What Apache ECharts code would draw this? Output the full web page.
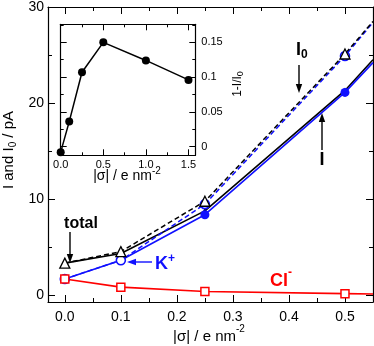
<!DOCTYPE html>
<html>
<head>
<meta charset="utf-8">
<script src="https://cdn.jsdelivr.net/npm/echarts@6/dist/echarts.min.js"></script>
<style>
html, body { margin: 0; padding: 0; background: #fff; }
#chart { width: 374px; height: 346px; }
</style>
</head>
<body>
<div id="chart"></div>
<script>
// |sigma| in e nm^-2; the last entry is only where the curves leave the frame
var sigma = [0, 0.1, 0.25, 0.5, 0.55];
var totalI0 = [3.3, 4.5, 9.75, 25.1, 28.5];
var totalI = [3.3, 4.3, 8.75, 21.3, 24.5];
var kI0 = [1.65, 3.6, 9.45, 24.9, 28.4];
var kI = [1.65, 3.6, 8.35, 21.1, 24.2];
var clI = [1.65, 0.8, 0.35, 0.12, 0.08];
var MARKED = 4; // points with a symbol

// inset: 1 - I/I0
var insetSigma = [0, 0.1, 0.25, 0.5, 1.0, 1.5];
var insetRatio = [-0.008, 0.036, 0.107, 0.150, 0.124, 0.096];

var FONT = 'Liberation Sans';
var BLUE = '#1010ff';
var RED = '#ff0000';

function pts(ys) {
  return sigma.map(function (x, i) {
    return i < MARKED ? [x, ys[i]] : { value: [x, ys[i]], symbol: 'none' };
  });
}

// one side of a frame; minInterval=maxInterval keeps ticks on round values
function side(grid, pos, range, step, tickLen, line, label) {
  return {
    type: 'value', gridIndex: grid, position: pos,
    min: range[0], max: range[1],
    minInterval: step, maxInterval: step,
    axisLine: { show: line, onZero: false, lineStyle: { color: '#000', width: 1.2 } },
    axisTick: { show: true, inside: true, length: tickLen, lineStyle: { color: '#000', width: 1 } },
    axisLabel: label ? Object.assign({ show: true, color: '#000', fontFamily: FONT }, label) : { show: false },
    splitLine: { show: false }
  };
}

var mainX = [-0.03, 0.55], mainY = [-0.75, 30];
var insX = [0, 1.58], insY = [-0.0125, 0.176];

function arrow(x1, y1, x2, y2, color) {
  var dx = x2 - x1, dy = y2 - y1, L = Math.sqrt(dx * dx + dy * dy);
  var ux = dx / L, uy = dy / L, hl = 9, hw = 3.2;
  var bx = x2 - ux * hl, by = y2 - uy * hl;
  return [
    { type: 'line', shape: { x1: x1, y1: y1, x2: bx, y2: by }, style: { stroke: color, lineWidth: 1.4 } },
    { type: 'polygon', shape: { points: [[x2, y2], [bx - uy * hw, by + ux * hw], [bx + uy * hw, by - ux * hw]] }, style: { fill: color } }
  ];
}

function txt(x, y, text, rich, align, rotation) {
  return {
    type: 'text', x: x, y: y, rotation: rotation || 0,
    style: { text: text, rich: rich, align: align || 'center', verticalAlign: 'middle', fontFamily: FONT }
  };
}

var chart = echarts.init(document.getElementById('chart'));
chart.setOption({
  animation: false,
  backgroundColor: '#fff',
  grid: [
    { left: 48, right: 1, top: 7, bottom: 44 },
    { left: 60.7, top: 24.3, width: 134.6, height: 131 }
  ],
  xAxis: [
    side(0, 'bottom', mainX, 0.1, 7, true, { fontSize: 14, margin: 8, showMinLabel: false, showMaxLabel: false, formatter: function (v) { return v.toFixed(1); } }),
    side(0, 'bottom', mainX, 0.05, 4, false),
    side(0, 'top', mainX, 0.1, 7, true),
    side(0, 'top', mainX, 0.05, 4, false),
    side(1, 'bottom', insX, 0.5, 6, true, { fontSize: 11, margin: 4, showMinLabel: true, showMaxLabel: false, formatter: function (v) { return v.toFixed(1); } }),
    side(1, 'bottom', insX, 0.25, 3, false),
    side(1, 'top', insX, 0.5, 6, true),
    side(1, 'top', insX, 0.25, 3, false)
  ],
  yAxis: [
    side(0, 'left', mainY, 10, 7, true, { fontSize: 14, margin: 4, showMinLabel: false, showMaxLabel: true }),
    side(0, 'left', mainY, 5, 4, false),
    side(0, 'right', mainY, 10, 7, true),
    side(0, 'right', mainY, 5, 4, false),
    side(1, 'left', insY, 0.05, 6, true),
    side(1, 'left', insY, 0.025, 3, false),
    side(1, 'right', insY, 0.05, 6, true, { fontSize: 11, margin: 6, showMinLabel: false, showMaxLabel: false }),
    side(1, 'right', insY, 0.025, 3, false)
  ],
  series: [
    { name: 'I total', type: 'line', data: pts(totalI), clip: false,
      lineStyle: { color: '#000', width: 1.6 }, symbol: 'triangle', symbolSize: 6,
      itemStyle: { color: '#000' } },
    { name: 'I K+', type: 'line', data: pts(kI), clip: false,
      lineStyle: { color: BLUE, width: 1.6 }, symbol: 'circle', symbolSize: 9,
      itemStyle: { color: BLUE } },
    { name: 'I0 K+', type: 'line', data: pts(kI0), clip: false,
      lineStyle: { color: BLUE, width: 1.5, type: [5, 3] }, symbol: 'circle', symbolSize: 9,
      itemStyle: { color: '#fff', borderColor: BLUE, borderWidth: 1.6 } },
    { name: 'I0 total', type: 'line', data: pts(totalI0), clip: false,
      lineStyle: { color: '#000', width: 1.5, type: [5, 3] }, symbol: 'triangle', symbolSize: 10,
      itemStyle: { color: '#fff', borderColor: '#000', borderWidth: 1.3 } },
    { name: 'Cl-', type: 'line', data: pts(clI), clip: false,
      lineStyle: { color: RED, width: 1.6 }, symbol: 'rect', symbolSize: 8,
      itemStyle: { color: '#fff', borderColor: RED, borderWidth: 1.5 } },
    { name: 'ratio', type: 'line', xAxisIndex: 4, yAxisIndex: 4, clip: false,
      data: insetSigma.map(function (x, i) { return [x, insetRatio[i]]; }),
      lineStyle: { color: '#000', width: 1.5 }, symbol: 'circle', symbolSize: 8,
      itemStyle: { color: '#000' } }
  ],
  graphic: [].concat(
    txt(9, 150, '{a|I and I}{s|0}{a| / pA}', {
      a: { fontSize: 15, lineHeight: 18, fontFamily: FONT, fill: '#000' },
      s: { fontSize: 10, lineHeight: 6, verticalAlign: 'bottom', fontFamily: FONT, fill: '#000' }
    }, 'center', Math.PI / 2),
    txt(209, 337, '{a||σ| / e nm}{p|-2}', {
      a: { fontSize: 15, lineHeight: 26, fontFamily: FONT, fill: '#000' },
      p: { fontSize: 10, lineHeight: 2, verticalAlign: 'top', fontFamily: FONT, fill: '#000' }
    }),
    txt(127, 176, '{a||σ| / e nm}{p|-2}', {
      a: { fontSize: 14, lineHeight: 20, fontFamily: FONT, fill: '#000' },
      p: { fontSize: 10, lineHeight: 4, verticalAlign: 'top', fontFamily: FONT, fill: '#000' }
    }),
    txt(238, 84, '{a|1-I/I}{s|0}', {
      a: { fontSize: 12, lineHeight: 15, fontFamily: FONT, fill: '#000' },
      s: { fontSize: 9, lineHeight: 6, verticalAlign: 'bottom', fontFamily: FONT, fill: '#000' }
    }, 'center', Math.PI / 2),
    txt(81, 224, '{a|total}', { a: { fontSize: 16, fontWeight: 'bold', fontFamily: FONT, fill: '#000' } }),
    txt(296, 50, '{a|I}{s|0}', {
      a: { fontSize: 18, lineHeight: 22, fontWeight: 'bold', fontFamily: FONT, fill: '#000' },
      s: { fontSize: 12, lineHeight: 4, verticalAlign: 'bottom', fontWeight: 'bold', fontFamily: FONT, fill: '#000' }
    }, 'left'),
    txt(322, 160, '{a|I}', { a: { fontSize: 18, fontWeight: 'bold', fontFamily: FONT, fill: '#000' } }),
    txt(155, 264, '{a|K}{p|+}', {
      a: { fontSize: 18, lineHeight: 22, fontWeight: 'bold', fontFamily: FONT, fill: BLUE },
      p: { fontSize: 12, lineHeight: 4, verticalAlign: 'top', fontWeight: 'bold', fontFamily: FONT, fill: BLUE }
    }, 'left'),
    txt(270, 281, '{a|Cl}{p|-}', {
      a: { fontSize: 18, lineHeight: 28, fontWeight: 'bold', fontFamily: FONT, fill: RED },
      p: { fontSize: 12, lineHeight: 4, verticalAlign: 'top', fontWeight: 'bold', fontFamily: FONT, fill: RED }
    }, 'left'),
    arrow(70, 232, 70, 263, '#000'),
    arrow(299, 65, 299, 93, '#000'),
    arrow(322, 150, 322, 113, '#000'),
    arrow(152, 262, 127, 262, BLUE)
  )
});
</script>
</body>
</html>
